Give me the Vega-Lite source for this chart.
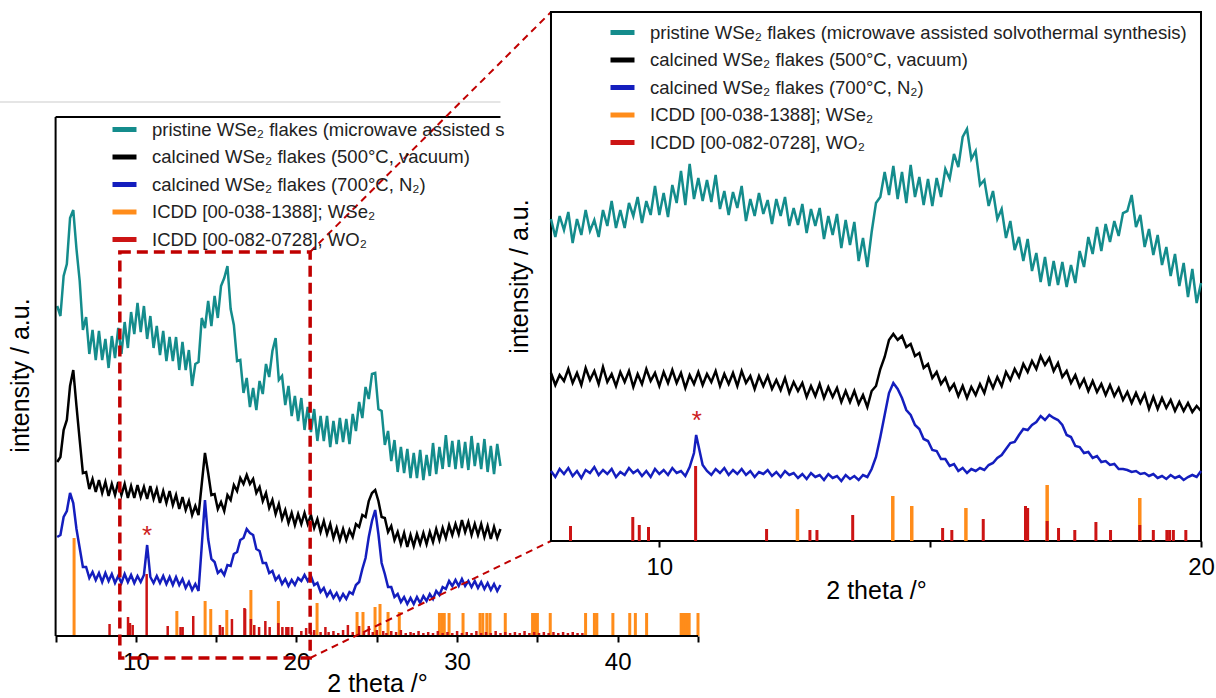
{
"$schema": "https://vega.github.io/schema/vega-lite/v6.json",
"background": "white",
"width": 1216, "height": 698,
"autosize": {"type": "none"},
"padding": 0,
"config": {
  "font": "Liberation Sans",
  "view": {"stroke": null},
  "axis": {"grid": false, "domainColor": "black", "tickColor": "black", "labelColor": "black", "titleColor": "black", "titleFontWeight": "normal", "labelFontSize": 24, "titleFontSize": 25, "domainWidth": 2, "tickWidth": 2, "labelFlush": false, "labelOverlap": false},
  "legend": {"orient": "none", "title": null, "labelFontSize": 18.5, "labelColor": "#222222", "symbolType": "stroke", "symbolStrokeWidth": 5, "symbolSize": 576, "rowPadding": 2.5, "labelOffset": 13, "padding": 0, "labelLimit": 900, "symbolOpacity": 1}
},
"resolve": {"scale": {"x": "independent", "y": "independent", "color": "independent"}, "axis": {"x": "independent", "y": "independent"}, "legend": {"color": "independent"}},
"datasets": {
  "lt": [{"x":5.1,"y":330},{"x":5.3,"y":320},{"x":5.5,"y":360},{"x":5.7,"y":372},{"x":5.9,"y":418},{"x":6.1,"y":426},{"x":6.3,"y":387},{"x":6.5,"y":355},{"x":6.7,"y":306},{"x":6.9,"y":319},{"x":7.1,"y":282},{"x":7.3,"y":306},{"x":7.5,"y":276},{"x":7.7,"y":305},{"x":7.9,"y":276},{"x":8.1,"y":297},{"x":8.3,"y":268},{"x":8.5,"y":300},{"x":8.7,"y":278},{"x":8.9,"y":308},{"x":9.1,"y":282},{"x":9.3,"y":314},{"x":9.5,"y":288},{"x":9.7,"y":324},{"x":9.9,"y":302},{"x":10.1,"y":333},{"x":10.3,"y":304},{"x":10.5,"y":330},{"x":10.7,"y":297},{"x":10.9,"y":320},{"x":11.1,"y":288},{"x":11.3,"y":310},{"x":11.5,"y":281},{"x":11.7,"y":305},{"x":11.9,"y":275},{"x":12.1,"y":299},{"x":12.3,"y":275},{"x":12.5,"y":299},{"x":12.7,"y":266},{"x":12.9,"y":294},{"x":13.1,"y":266},{"x":13.3,"y":286},{"x":13.5,"y":250},{"x":13.7,"y":272},{"x":13.9,"y":274},{"x":14.1,"y":318},{"x":14.3,"y":308},{"x":14.5,"y":335},{"x":14.7,"y":310},{"x":14.9,"y":340},{"x":15.1,"y":318},{"x":15.3,"y":350},{"x":15.5,"y":358},{"x":15.7,"y":370},{"x":15.9,"y":327},{"x":16.1,"y":311},{"x":16.3,"y":275},{"x":16.5,"y":276},{"x":16.7,"y":243},{"x":16.9,"y":258},{"x":17.1,"y":229},{"x":17.3,"y":248},{"x":17.5,"y":226},{"x":17.7,"y":255},{"x":17.9,"y":242},{"x":18.1,"y":272},{"x":18.3,"y":259},{"x":18.5,"y":285},{"x":18.7,"y":298},{"x":18.9,"y":256},{"x":19.1,"y":260},{"x":19.3,"y":231},{"x":19.5,"y":250},{"x":19.7,"y":220},{"x":19.9,"y":240},{"x":20.1,"y":215},{"x":20.3,"y":238},{"x":20.5,"y":206},{"x":20.7,"y":229},{"x":20.9,"y":204},{"x":21.1,"y":227},{"x":21.3,"y":195},{"x":21.5,"y":220},{"x":21.7,"y":195},{"x":21.9,"y":220},{"x":22.1,"y":189},{"x":22.3,"y":215},{"x":22.5,"y":192},{"x":22.7,"y":218},{"x":22.9,"y":194},{"x":23.1,"y":217},{"x":23.3,"y":192},{"x":23.5,"y":222},{"x":23.7,"y":205},{"x":23.9,"y":234},{"x":24.1,"y":218},{"x":24.3,"y":249},{"x":24.5,"y":237},{"x":24.7,"y":262},{"x":24.9,"y":263},{"x":25.1,"y":227},{"x":25.3,"y":225},{"x":25.5,"y":191},{"x":25.7,"y":205},{"x":25.9,"y":175},{"x":26.1,"y":196},{"x":26.3,"y":164},{"x":26.5,"y":189},{"x":26.7,"y":163},{"x":26.9,"y":187},{"x":27.1,"y":158},{"x":27.3,"y":183},{"x":27.5,"y":158},{"x":27.7,"y":186},{"x":27.9,"y":156},{"x":28.1,"y":181},{"x":28.3,"y":160},{"x":28.5,"y":193},{"x":28.7,"y":162},{"x":28.9,"y":189},{"x":29.1,"y":167},{"x":29.3,"y":201},{"x":29.5,"y":169},{"x":29.7,"y":195},{"x":29.9,"y":167},{"x":30.1,"y":196},{"x":30.3,"y":168},{"x":30.5,"y":194},{"x":30.7,"y":166},{"x":30.9,"y":200},{"x":31.1,"y":170},{"x":31.3,"y":193},{"x":31.5,"y":167},{"x":31.7,"y":197},{"x":31.9,"y":164},{"x":32.1,"y":190},{"x":32.3,"y":162},{"x":32.5,"y":192},{"x":32.7,"y":170}],
  "lk": [{"x":5.1,"y":174},{"x":5.3,"y":179},{"x":5.5,"y":206},{"x":5.7,"y":216},{"x":5.9,"y":250},{"x":6.1,"y":266},{"x":6.3,"y":230},{"x":6.5,"y":196},{"x":6.7,"y":163},{"x":6.9,"y":164},{"x":7.1,"y":147},{"x":7.3,"y":157},{"x":7.5,"y":144},{"x":7.7,"y":156},{"x":7.9,"y":143},{"x":8.1,"y":154},{"x":8.3,"y":140},{"x":8.5,"y":152},{"x":8.7,"y":141},{"x":8.9,"y":154},{"x":9.1,"y":141},{"x":9.3,"y":152},{"x":9.5,"y":138},{"x":9.7,"y":150},{"x":9.9,"y":138},{"x":10.1,"y":151},{"x":10.3,"y":139},{"x":10.5,"y":149},{"x":10.7,"y":137},{"x":10.9,"y":150},{"x":11.1,"y":137},{"x":11.3,"y":147},{"x":11.5,"y":133},{"x":11.7,"y":145},{"x":11.9,"y":133},{"x":12.1,"y":145},{"x":12.3,"y":131},{"x":12.5,"y":141},{"x":12.7,"y":127},{"x":12.9,"y":139},{"x":13.1,"y":126},{"x":13.3,"y":135},{"x":13.5,"y":121},{"x":13.7,"y":130},{"x":13.9,"y":121},{"x":14.1,"y":152},{"x":14.3,"y":183},{"x":14.5,"y":163},{"x":14.7,"y":141},{"x":14.9,"y":142},{"x":15.1,"y":127},{"x":15.3,"y":134},{"x":15.5,"y":125},{"x":15.7,"y":141},{"x":15.9,"y":136},{"x":16.1,"y":151},{"x":16.3,"y":145},{"x":16.5,"y":158},{"x":16.7,"y":152},{"x":16.9,"y":161},{"x":17.1,"y":152},{"x":17.3,"y":157},{"x":17.5,"y":143},{"x":17.7,"y":149},{"x":17.9,"y":135},{"x":18.1,"y":143},{"x":18.3,"y":128},{"x":18.5,"y":136},{"x":18.7,"y":122},{"x":18.9,"y":132},{"x":19.1,"y":117},{"x":19.3,"y":126},{"x":19.5,"y":113},{"x":19.7,"y":123},{"x":19.9,"y":111},{"x":20.1,"y":122},{"x":20.3,"y":112},{"x":20.5,"y":123},{"x":20.7,"y":112},{"x":20.9,"y":121},{"x":21.1,"y":108},{"x":21.3,"y":117},{"x":21.5,"y":104},{"x":21.7,"y":115},{"x":21.9,"y":102},{"x":22.1,"y":112},{"x":22.3,"y":98},{"x":22.5,"y":108},{"x":22.7,"y":96},{"x":22.9,"y":107},{"x":23.1,"y":96},{"x":23.3,"y":106},{"x":23.5,"y":99},{"x":23.7,"y":112},{"x":23.9,"y":109},{"x":24.1,"y":121},{"x":24.3,"y":119},{"x":24.5,"y":135},{"x":24.7,"y":143},{"x":24.9,"y":146},{"x":25.1,"y":135},{"x":25.3,"y":119},{"x":25.5,"y":118},{"x":25.7,"y":104},{"x":25.9,"y":110},{"x":26.1,"y":96},{"x":26.3,"y":104},{"x":26.5,"y":92},{"x":26.7,"y":103},{"x":26.9,"y":89},{"x":27.1,"y":101},{"x":27.3,"y":90},{"x":27.5,"y":102},{"x":27.7,"y":92},{"x":27.9,"y":103},{"x":28.1,"y":92},{"x":28.3,"y":104},{"x":28.5,"y":94},{"x":28.7,"y":107},{"x":28.9,"y":96},{"x":29.1,"y":108},{"x":29.3,"y":98},{"x":29.5,"y":111},{"x":29.7,"y":101},{"x":29.9,"y":112},{"x":30.1,"y":102},{"x":30.3,"y":116},{"x":30.5,"y":104},{"x":30.7,"y":114},{"x":30.9,"y":101},{"x":31.1,"y":112},{"x":31.3,"y":101},{"x":31.5,"y":112},{"x":31.7,"y":99},{"x":31.9,"y":110},{"x":32.1,"y":97},{"x":32.3,"y":109},{"x":32.5,"y":98},{"x":32.7,"y":107}],
  "lb": [{"x":5.1,"y":99},{"x":5.3,"y":101},{"x":5.5,"y":119},{"x":5.7,"y":125},{"x":5.9,"y":143},{"x":6.1,"y":133},{"x":6.3,"y":107},{"x":6.5,"y":88},{"x":6.7,"y":69},{"x":6.9,"y":69},{"x":7.1,"y":58},{"x":7.3,"y":64},{"x":7.5,"y":56},{"x":7.7,"y":63},{"x":7.9,"y":54},{"x":8.1,"y":63},{"x":8.3,"y":55},{"x":8.5,"y":62},{"x":8.7,"y":53},{"x":8.9,"y":60},{"x":9.1,"y":53},{"x":9.3,"y":62},{"x":9.5,"y":54},{"x":9.7,"y":61},{"x":9.9,"y":53},{"x":10.1,"y":60},{"x":10.3,"y":54},{"x":10.5,"y":61},{"x":10.7,"y":91},{"x":10.9,"y":59},{"x":11.1,"y":53},{"x":11.3,"y":60},{"x":11.5,"y":53},{"x":11.7,"y":60},{"x":11.9,"y":52},{"x":12.1,"y":59},{"x":12.3,"y":51},{"x":12.5,"y":59},{"x":12.7,"y":51},{"x":12.9,"y":57},{"x":13.1,"y":48},{"x":13.3,"y":54},{"x":13.5,"y":46},{"x":13.7,"y":52},{"x":13.9,"y":45},{"x":14.1,"y":90},{"x":14.3,"y":136},{"x":14.5,"y":97},{"x":14.7,"y":77},{"x":14.9,"y":74},{"x":15.1,"y":63},{"x":15.3,"y":66},{"x":15.5,"y":61},{"x":15.7,"y":71},{"x":15.9,"y":70},{"x":16.1,"y":82},{"x":16.3,"y":84},{"x":16.5,"y":96},{"x":16.7,"y":98},{"x":16.9,"y":107},{"x":17.1,"y":103},{"x":17.3,"y":101},{"x":17.5,"y":87},{"x":17.7,"y":85},{"x":17.9,"y":73},{"x":18.1,"y":73},{"x":18.3,"y":63},{"x":18.5,"y":65},{"x":18.7,"y":56},{"x":18.9,"y":60},{"x":19.1,"y":52},{"x":19.3,"y":57},{"x":19.5,"y":50},{"x":19.7,"y":56},{"x":19.9,"y":51},{"x":20.1,"y":58},{"x":20.3,"y":55},{"x":20.5,"y":61},{"x":20.7,"y":55},{"x":20.9,"y":60},{"x":21.1,"y":51},{"x":21.3,"y":53},{"x":21.5,"y":44},{"x":21.7,"y":48},{"x":21.9,"y":40},{"x":22.1,"y":45},{"x":22.3,"y":38},{"x":22.5,"y":43},{"x":22.7,"y":36},{"x":22.9,"y":42},{"x":23.1,"y":37},{"x":23.3,"y":44},{"x":23.5,"y":42},{"x":23.7,"y":51},{"x":23.9,"y":54},{"x":24.1,"y":67},{"x":24.3,"y":78},{"x":24.5,"y":99},{"x":24.7,"y":115},{"x":24.9,"y":126},{"x":25.1,"y":102},{"x":25.3,"y":73},{"x":25.5,"y":62},{"x":25.7,"y":49},{"x":25.9,"y":49},{"x":26.1,"y":39},{"x":26.3,"y":42},{"x":26.5,"y":34},{"x":26.7,"y":39},{"x":26.9,"y":32},{"x":27.1,"y":38},{"x":27.3,"y":32},{"x":27.5,"y":39},{"x":27.7,"y":33},{"x":27.9,"y":40},{"x":28.1,"y":35},{"x":28.3,"y":42},{"x":28.5,"y":37},{"x":28.7,"y":45},{"x":28.9,"y":41},{"x":29.1,"y":49},{"x":29.3,"y":47},{"x":29.5,"y":55},{"x":29.7,"y":50},{"x":29.9,"y":56},{"x":30.1,"y":50},{"x":30.3,"y":57},{"x":30.5,"y":50},{"x":30.7,"y":55},{"x":30.9,"y":49},{"x":31.1,"y":55},{"x":31.3,"y":48},{"x":31.5,"y":54},{"x":31.7,"y":47},{"x":31.9,"y":53},{"x":32.1,"y":46},{"x":32.3,"y":52},{"x":32.5,"y":45},{"x":32.7,"y":51}],
  "lws": [{"x":6.15,"y":98},{"x":12.55,"y":25},{"x":14.31,"y":35},{"x":14.66,"y":27},{"x":15.66,"y":26},{"x":17.16,"y":46},{"x":18.87,"y":35},{"x":21.28,"y":33},{"x":23.77,"y":24},{"x":24.14,"y":24},{"x":24.89,"y":29},{"x":25.2,"y":32},{"x":25.7,"y":24},{"x":26.4,"y":24},{"x":28.9,"y":23},{"x":29.06,"y":23},{"x":29.2,"y":23},{"x":29.5,"y":23},{"x":30.37,"y":23},{"x":31.43,"y":23},{"x":31.6,"y":23},{"x":31.85,"y":23},{"x":32.05,"y":23},{"x":33.0,"y":23},{"x":34.7,"y":23},{"x":34.8,"y":23},{"x":34.9,"y":23},{"x":35.0,"y":23},{"x":35.8,"y":23},{"x":38.0,"y":23},{"x":38.55,"y":23},{"x":38.7,"y":23},{"x":39.7,"y":23},{"x":40.75,"y":23},{"x":41.1,"y":23},{"x":41.8,"y":23},{"x":43.95,"y":23},{"x":44.05,"y":23},{"x":44.15,"y":23},{"x":44.25,"y":23},{"x":44.35,"y":23},{"x":44.45,"y":23},{"x":45.0,"y":23}],
  "lwo": [{"x":8.36,"y":12},{"x":9.51,"y":19},{"x":9.63,"y":13},{"x":9.8,"y":11},{"x":10.67,"y":62},{"x":11.98,"y":10},{"x":12.78,"y":9},{"x":12.91,"y":9},{"x":13.57,"y":20},{"x":15.23,"y":11},{"x":15.4,"y":9},{"x":15.98,"y":17},{"x":16.76,"y":28},{"x":16.8,"y":27},{"x":17.16,"y":17},{"x":17.37,"y":11},{"x":17.67,"y":9},{"x":18.06,"y":15},{"x":18.33,"y":9},{"x":18.87,"y":13},{"x":19.12,"y":9},{"x":19.37,"y":9},{"x":19.42,"y":9},{"x":19.49,"y":9},{"x":19.72,"y":9},{"x":20.3,"y":5},{"x":20.6,"y":8},{"x":20.9,"y":4},{"x":21.1,"y":6},{"x":21.5,"y":4},{"x":21.8,"y":9},{"x":22.0,"y":4},{"x":22.3,"y":5},{"x":22.6,"y":3},{"x":22.9,"y":6},{"x":23.2,"y":11},{"x":23.5,"y":4},{"x":23.9,"y":10},{"x":24.2,"y":5},{"x":24.5,"y":10},{"x":24.75,"y":4},{"x":25.0,"y":6},{"x":25.4,"y":5},{"x":25.6,"y":3},{"x":25.9,"y":5},{"x":26.2,"y":4},{"x":26.5,"y":6},{"x":26.8,"y":3},{"x":27.1,"y":4},{"x":27.3,"y":3},{"x":27.6,"y":5},{"x":27.9,"y":3},{"x":28.2,"y":4},{"x":28.5,"y":3},{"x":28.8,"y":5},{"x":29.1,"y":3},{"x":29.4,"y":4},{"x":29.7,"y":3},{"x":30.0,"y":5},{"x":30.3,"y":3},{"x":30.6,"y":4},{"x":30.9,"y":3},{"x":31.2,"y":5},{"x":31.5,"y":3},{"x":31.8,"y":4},{"x":32.1,"y":3},{"x":32.4,"y":5},{"x":32.7,"y":3},{"x":33.0,"y":4},{"x":33.3,"y":3},{"x":33.6,"y":4},{"x":33.9,"y":3},{"x":34.2,"y":5},{"x":34.5,"y":3},{"x":34.8,"y":4},{"x":35.1,"y":3},{"x":35.4,"y":4},{"x":35.7,"y":3},{"x":36.0,"y":4},{"x":36.3,"y":3},{"x":36.6,"y":4},{"x":36.9,"y":3},{"x":37.2,"y":4},{"x":37.5,"y":3},{"x":37.8,"y":3}],
  "last": [{"x":10.7,"y":106,"t":"*"}],
  "lframe": [{"x":5,"x2":5,"y":0,"y2":519},{"x":5,"x2":32.7,"y":519,"y2":519},{"x":5,"x2":45,"y":0,"y2":0}],
  "lgray": [{"x":1.538,"x2":32.7,"y":534,"y2":534}],
  "lbox": [{"x":9.0,"x2":20.85,"y":384,"y2":-22}],
  "lconn": [{"g":"a","x":20.85,"y":384},{"g":"a","x":35.85,"y":624},{"g":"b","x":20.85,"y":-22},{"g":"b","x":35.85,"y":95}],
  "iframe": [{"x":8,"x2":20,"y":0,"y2":529}],
  "it": [{"x":8,"y":322},{"x":8.08,"y":304},{"x":8.16,"y":325},{"x":8.24,"y":311},{"x":8.32,"y":329},{"x":8.4,"y":298},{"x":8.48,"y":322},{"x":8.56,"y":306},{"x":8.64,"y":331},{"x":8.72,"y":310},{"x":8.8,"y":321},{"x":8.88,"y":304},{"x":8.96,"y":331},{"x":9.04,"y":315},{"x":9.12,"y":340},{"x":9.2,"y":313},{"x":9.28,"y":331},{"x":9.36,"y":313},{"x":9.44,"y":338},{"x":9.52,"y":325},{"x":9.6,"y":344},{"x":9.68,"y":318},{"x":9.76,"y":340},{"x":9.84,"y":326},{"x":9.92,"y":355},{"x":10,"y":326},{"x":10.08,"y":348},{"x":10.16,"y":324},{"x":10.24,"y":356},{"x":10.32,"y":338},{"x":10.4,"y":370},{"x":10.48,"y":336},{"x":10.56,"y":377},{"x":10.64,"y":342},{"x":10.72,"y":363},{"x":10.8,"y":340},{"x":10.88,"y":361},{"x":10.96,"y":339},{"x":11.04,"y":366},{"x":11.12,"y":332},{"x":11.2,"y":350},{"x":11.28,"y":326},{"x":11.36,"y":349},{"x":11.44,"y":333},{"x":11.52,"y":355},{"x":11.6,"y":320},{"x":11.68,"y":342},{"x":11.76,"y":325},{"x":11.84,"y":348},{"x":11.92,"y":327},{"x":12,"y":341},{"x":12.08,"y":317},{"x":12.16,"y":342},{"x":12.24,"y":325},{"x":12.32,"y":344},{"x":12.4,"y":315},{"x":12.48,"y":333},{"x":12.56,"y":316},{"x":12.64,"y":337},{"x":12.72,"y":308},{"x":12.8,"y":332},{"x":12.88,"y":315},{"x":12.96,"y":333},{"x":13.04,"y":302},{"x":13.12,"y":325},{"x":13.2,"y":306},{"x":13.28,"y":327},{"x":13.36,"y":293},{"x":13.44,"y":321},{"x":13.52,"y":296},{"x":13.6,"y":319},{"x":13.68,"y":280},{"x":13.76,"y":303},{"x":13.84,"y":274},{"x":13.92,"y":309},{"x":14,"y":338},{"x":14.08,"y":344},{"x":14.16,"y":369},{"x":14.24,"y":346},{"x":14.32,"y":375},{"x":14.4,"y":342},{"x":14.48,"y":369},{"x":14.56,"y":338},{"x":14.64,"y":376},{"x":14.72,"y":344},{"x":14.8,"y":364},{"x":14.88,"y":336},{"x":14.96,"y":362},{"x":15.04,"y":335},{"x":15.12,"y":363},{"x":15.2,"y":344},{"x":15.28,"y":372},{"x":15.36,"y":362},{"x":15.44,"y":387},{"x":15.52,"y":374},{"x":15.6,"y":404},{"x":15.68,"y":412},{"x":15.76,"y":382},{"x":15.84,"y":390},{"x":15.92,"y":356},{"x":16,"y":361},{"x":16.08,"y":335},{"x":16.16,"y":350},{"x":16.24,"y":322},{"x":16.32,"y":332},{"x":16.4,"y":303},{"x":16.48,"y":320},{"x":16.56,"y":291},{"x":16.64,"y":304},{"x":16.72,"y":280},{"x":16.8,"y":302},{"x":16.88,"y":270},{"x":16.96,"y":288},{"x":17.04,"y":259},{"x":17.12,"y":284},{"x":17.2,"y":255},{"x":17.28,"y":280},{"x":17.36,"y":256},{"x":17.44,"y":279},{"x":17.52,"y":254},{"x":17.6,"y":276},{"x":17.68,"y":258},{"x":17.76,"y":290},{"x":17.84,"y":274},{"x":17.92,"y":304},{"x":18,"y":287},{"x":18.08,"y":314},{"x":18.16,"y":290},{"x":18.24,"y":317},{"x":18.32,"y":299},{"x":18.4,"y":320},{"x":18.48,"y":305},{"x":18.56,"y":328},{"x":18.64,"y":330},{"x":18.72,"y":346},{"x":18.8,"y":314},{"x":18.88,"y":326},{"x":18.96,"y":294},{"x":19.04,"y":312},{"x":19.12,"y":286},{"x":19.2,"y":306},{"x":19.28,"y":276},{"x":19.36,"y":294},{"x":19.44,"y":265},{"x":19.52,"y":287},{"x":19.6,"y":255},{"x":19.68,"y":278},{"x":19.76,"y":244},{"x":19.84,"y":272},{"x":19.92,"y":238},{"x":20,"y":258}],
  "ik": [{"x":8,"y":168},{"x":8.08,"y":156},{"x":8.16,"y":166},{"x":8.24,"y":160},{"x":8.32,"y":172},{"x":8.4,"y":158},{"x":8.48,"y":168},{"x":8.56,"y":156},{"x":8.64,"y":173},{"x":8.72,"y":161},{"x":8.8,"y":170},{"x":8.88,"y":157},{"x":8.96,"y":174},{"x":9.04,"y":159},{"x":9.12,"y":167},{"x":9.2,"y":155},{"x":9.28,"y":169},{"x":9.36,"y":159},{"x":9.44,"y":170},{"x":9.52,"y":154},{"x":9.6,"y":167},{"x":9.68,"y":157},{"x":9.76,"y":172},{"x":9.84,"y":160},{"x":9.92,"y":168},{"x":10,"y":155},{"x":10.08,"y":169},{"x":10.16,"y":158},{"x":10.24,"y":171},{"x":10.32,"y":158},{"x":10.4,"y":168},{"x":10.48,"y":153},{"x":10.56,"y":166},{"x":10.64,"y":157},{"x":10.72,"y":169},{"x":10.8,"y":156},{"x":10.88,"y":167},{"x":10.96,"y":159},{"x":11.04,"y":170},{"x":11.12,"y":155},{"x":11.2,"y":167},{"x":11.28,"y":157},{"x":11.36,"y":168},{"x":11.44,"y":155},{"x":11.52,"y":170},{"x":11.6,"y":158},{"x":11.68,"y":165},{"x":11.76,"y":152},{"x":11.84,"y":165},{"x":11.92,"y":155},{"x":12,"y":165},{"x":12.08,"y":152},{"x":12.16,"y":161},{"x":12.24,"y":151},{"x":12.32,"y":163},{"x":12.4,"y":148},{"x":12.48,"y":159},{"x":12.56,"y":150},{"x":12.64,"y":158},{"x":12.72,"y":144},{"x":12.8,"y":155},{"x":12.88,"y":145},{"x":12.96,"y":157},{"x":13.04,"y":143},{"x":13.12,"y":154},{"x":13.2,"y":144},{"x":13.28,"y":153},{"x":13.36,"y":139},{"x":13.44,"y":150},{"x":13.52,"y":139},{"x":13.6,"y":150},{"x":13.68,"y":137},{"x":13.76,"y":146},{"x":13.84,"y":134},{"x":13.92,"y":150},{"x":14,"y":155},{"x":14.08,"y":172},{"x":14.16,"y":184},{"x":14.24,"y":201},{"x":14.32,"y":207},{"x":14.4,"y":201},{"x":14.48,"y":205},{"x":14.56,"y":194},{"x":14.64,"y":197},{"x":14.72,"y":185},{"x":14.8,"y":188},{"x":14.88,"y":173},{"x":14.96,"y":177},{"x":15.04,"y":163},{"x":15.12,"y":169},{"x":15.2,"y":157},{"x":15.28,"y":163},{"x":15.36,"y":151},{"x":15.44,"y":157},{"x":15.52,"y":145},{"x":15.6,"y":155},{"x":15.68,"y":143},{"x":15.76,"y":154},{"x":15.84,"y":146},{"x":15.92,"y":157},{"x":16,"y":148},{"x":16.08,"y":163},{"x":16.16,"y":153},{"x":16.24,"y":164},{"x":16.32,"y":155},{"x":16.4,"y":169},{"x":16.48,"y":161},{"x":16.56,"y":172},{"x":16.64,"y":164},{"x":16.72,"y":177},{"x":16.8,"y":169},{"x":16.88,"y":180},{"x":16.96,"y":172},{"x":17.04,"y":185},{"x":17.12,"y":176},{"x":17.2,"y":183},{"x":17.28,"y":170},{"x":17.36,"y":178},{"x":17.44,"y":164},{"x":17.52,"y":170},{"x":17.6,"y":158},{"x":17.68,"y":166},{"x":17.76,"y":154},{"x":17.84,"y":162},{"x":17.92,"y":150},{"x":18,"y":160},{"x":18.08,"y":149},{"x":18.16,"y":157},{"x":18.24,"y":146},{"x":18.32,"y":156},{"x":18.4,"y":145},{"x":18.48,"y":153},{"x":18.56,"y":141},{"x":18.64,"y":149},{"x":18.72,"y":138},{"x":18.8,"y":148},{"x":18.88,"y":138},{"x":18.96,"y":147},{"x":19.04,"y":132},{"x":19.12,"y":144},{"x":19.2,"y":132},{"x":19.28,"y":143},{"x":19.36,"y":133},{"x":19.44,"y":141},{"x":19.52,"y":130},{"x":19.6,"y":139},{"x":19.68,"y":130},{"x":19.76,"y":138},{"x":19.84,"y":129},{"x":19.92,"y":135},{"x":20,"y":130}],
  "ib": [{"x":8,"y":70},{"x":8.08,"y":64},{"x":8.16,"y":72},{"x":8.24,"y":67},{"x":8.32,"y":73},{"x":8.4,"y":65},{"x":8.48,"y":70},{"x":8.56,"y":63},{"x":8.64,"y":71},{"x":8.72,"y":68},{"x":8.8,"y":74},{"x":8.88,"y":66},{"x":8.96,"y":71},{"x":9.04,"y":67},{"x":9.12,"y":72},{"x":9.2,"y":64},{"x":9.28,"y":69},{"x":9.36,"y":66},{"x":9.44,"y":73},{"x":9.52,"y":68},{"x":9.6,"y":71},{"x":9.68,"y":65},{"x":9.76,"y":70},{"x":9.84,"y":64},{"x":9.92,"y":72},{"x":10,"y":67},{"x":10.08,"y":71},{"x":10.16,"y":66},{"x":10.24,"y":73},{"x":10.32,"y":68},{"x":10.4,"y":70},{"x":10.48,"y":65},{"x":10.56,"y":74},{"x":10.64,"y":88},{"x":10.68,"y":106},{"x":10.72,"y":96},{"x":10.8,"y":76},{"x":10.88,"y":70},{"x":10.96,"y":66},{"x":11.04,"y":72},{"x":11.12,"y":68},{"x":11.2,"y":73},{"x":11.28,"y":66},{"x":11.36,"y":71},{"x":11.44,"y":67},{"x":11.52,"y":72},{"x":11.6,"y":66},{"x":11.68,"y":70},{"x":11.76,"y":64},{"x":11.84,"y":69},{"x":11.92,"y":67},{"x":12,"y":71},{"x":12.08,"y":65},{"x":12.16,"y":69},{"x":12.24,"y":64},{"x":12.32,"y":70},{"x":12.4,"y":66},{"x":12.48,"y":68},{"x":12.56,"y":63},{"x":12.64,"y":67},{"x":12.72,"y":62},{"x":12.8,"y":68},{"x":12.88,"y":64},{"x":12.96,"y":66},{"x":13.04,"y":61},{"x":13.12,"y":67},{"x":13.2,"y":63},{"x":13.28,"y":65},{"x":13.36,"y":60},{"x":13.44,"y":66},{"x":13.52,"y":62},{"x":13.6,"y":65},{"x":13.68,"y":61},{"x":13.76,"y":66},{"x":13.84,"y":64},{"x":13.92,"y":72},{"x":14,"y":84},{"x":14.08,"y":104},{"x":14.16,"y":126},{"x":14.24,"y":148},{"x":14.32,"y":158},{"x":14.4,"y":152},{"x":14.48,"y":143},{"x":14.56,"y":131},{"x":14.64,"y":126},{"x":14.72,"y":116},{"x":14.8,"y":112},{"x":14.88,"y":102},{"x":14.96,"y":100},{"x":15.04,"y":91},{"x":15.12,"y":90},{"x":15.2,"y":82},{"x":15.28,"y":82},{"x":15.36,"y":75},{"x":15.44,"y":77},{"x":15.52,"y":70},{"x":15.6,"y":73},{"x":15.68,"y":68},{"x":15.76,"y":72},{"x":15.84,"y":70},{"x":15.92,"y":73},{"x":16,"y":71},{"x":16.08,"y":76},{"x":16.16,"y":78},{"x":16.24,"y":83},{"x":16.32,"y":86},{"x":16.4,"y":92},{"x":16.48,"y":98},{"x":16.56,"y":99},{"x":16.64,"y":106},{"x":16.72,"y":112},{"x":16.8,"y":111},{"x":16.88,"y":116},{"x":16.96,"y":119},{"x":17.04,"y":125},{"x":17.12,"y":121},{"x":17.2,"y":126},{"x":17.28,"y":123},{"x":17.36,"y":121},{"x":17.44,"y":116},{"x":17.52,"y":106},{"x":17.6,"y":104},{"x":17.68,"y":95},{"x":17.76,"y":94},{"x":17.84,"y":88},{"x":17.92,"y":89},{"x":18,"y":83},{"x":18.08,"y":85},{"x":18.16,"y":79},{"x":18.24,"y":80},{"x":18.32,"y":76},{"x":18.4,"y":77},{"x":18.48,"y":72},{"x":18.56,"y":72},{"x":18.64,"y":71},{"x":18.72,"y":69},{"x":18.8,"y":70},{"x":18.88,"y":67},{"x":18.96,"y":68},{"x":19.04,"y":65},{"x":19.12,"y":67},{"x":19.2,"y":63},{"x":19.28,"y":65},{"x":19.36,"y":62},{"x":19.44,"y":66},{"x":19.52,"y":63},{"x":19.6,"y":65},{"x":19.68,"y":61},{"x":19.76,"y":64},{"x":19.84,"y":66},{"x":19.92,"y":64},{"x":20,"y":70}],
  "iws": [{"x":12.55,"y":32},{"x":14.31,"y":45},{"x":14.66,"y":35},{"x":15.66,"y":33},{"x":17.16,"y":56},{"x":18.87,"y":43}],
  "iwo": [{"x":8.36,"y":15},{"x":9.51,"y":24},{"x":9.63,"y":16},{"x":9.8,"y":14},{"x":10.67,"y":75},{"x":11.98,"y":12},{"x":12.78,"y":11},{"x":12.91,"y":11},{"x":13.57,"y":26},{"x":15.23,"y":13},{"x":15.4,"y":11},{"x":15.98,"y":22},{"x":16.76,"y":35},{"x":16.8,"y":33},{"x":17.16,"y":20},{"x":17.37,"y":13},{"x":17.67,"y":11},{"x":18.06,"y":19},{"x":18.33,"y":11},{"x":18.87,"y":16},{"x":19.12,"y":11},{"x":19.37,"y":11},{"x":19.42,"y":11},{"x":19.49,"y":11},{"x":19.72,"y":11}],
  "iast": [{"x":10.69,"y":126,"t":"*"}]
},
"layer": [
  {
    "layer": [
      {"data": {"name": "lws"}, "mark": {"type": "rule", "strokeWidth": 3},
       "encoding": {
         "x": {"field": "x", "type": "quantitative", "scale": {"domain": [1.538, 77.254], "nice": false, "zero": false},
               "axis": {"orient": "bottom", "offset": -62, "domain": false, "values": [5,10,15,20,25,30,35,40,45], "labelExpr": "datum.value % 10 === 0 ? format(datum.value, 'd') : ''", "title": "2 theta /°", "titleX": 377, "tickSize": 6, "labelPadding": 8, "titlePadding": -3}},
         "y": {"field": "y", "type": "quantitative", "scale": {"domain": [-62, 636], "nice": false, "zero": false},
               "axis": {"orient": "left", "offset": -55.6, "title": "intensity / a.u.", "domain": false, "ticks": false, "labels": false, "titlePadding": 22, "titleY": 375}},
         "y2": {"datum": 0},
         "color": {"datum": "ICDD [00-038-1388]; WSe₂",
                   "scale": {"domain": ["pristine WSe₂ flakes (microwave assisted solvothermal synthesis)", "calcined WSe₂ flakes (500°C, vacuum)", "calcined WSe₂ flakes (700°C, N₂)", "ICDD [00-038-1388]; WSe₂", "ICDD [00-082-0728], WO₂"],
                             "range": ["#148c8c", "#000000", "#141ebe", "#ff8c1a", "#cc1414"]},
                   "legend": {"legendX": 110, "legendY": 115, "labelExpr": "indexof(datum.label, 'pristine') === 0 ? 'pristine WSe₂ flakes (microwave assisted s' : datum.label"}}
       }},
      {"data": {"name": "lwo"}, "mark": {"type": "rule", "strokeWidth": 2.5},
       "encoding": {"x": {"field": "x", "type": "quantitative"}, "y": {"field": "y", "type": "quantitative"}, "y2": {"datum": 0}, "color": {"datum": "ICDD [00-082-0728], WO₂"}}},
      {"data": {"name": "lt"}, "mark": {"type": "line", "strokeWidth": 2.5},
       "encoding": {"x": {"field": "x", "type": "quantitative"}, "y": {"field": "y", "type": "quantitative"}, "color": {"datum": "pristine WSe₂ flakes (microwave assisted solvothermal synthesis)"}}},
      {"data": {"name": "lk"}, "mark": {"type": "line", "strokeWidth": 2.5},
       "encoding": {"x": {"field": "x", "type": "quantitative"}, "y": {"field": "y", "type": "quantitative"}, "color": {"datum": "calcined WSe₂ flakes (500°C, vacuum)"}}},
      {"data": {"name": "lb"}, "mark": {"type": "line", "strokeWidth": 2.5},
       "encoding": {"x": {"field": "x", "type": "quantitative"}, "y": {"field": "y", "type": "quantitative"}, "color": {"datum": "calcined WSe₂ flakes (700°C, N₂)"}}},
      {"data": {"name": "last"}, "mark": {"type": "text", "fontSize": 26, "color": "#cc2020", "baseline": "middle", "dy": 6},
       "encoding": {"x": {"field": "x", "type": "quantitative"}, "y": {"field": "y", "type": "quantitative"}, "text": {"field": "t"}}},
      {"data": {"name": "lgray"}, "mark": {"type": "rule", "color": "#dcdcdc", "strokeWidth": 1.5},
       "encoding": {"x": {"field": "x", "type": "quantitative"}, "x2": {"field": "x2"}, "y": {"field": "y", "type": "quantitative"}, "y2": {"field": "y2"}}},
      {"data": {"name": "lframe"}, "mark": {"type": "rule", "color": "black", "strokeWidth": 2},
       "encoding": {"x": {"field": "x", "type": "quantitative"}, "x2": {"field": "x2"}, "y": {"field": "y", "type": "quantitative"}, "y2": {"field": "y2"}}},
      {"data": {"name": "lbox"}, "mark": {"type": "rect", "filled": false, "stroke": "#c00000", "strokeWidth": 3.5, "strokeDash": [11, 6]},
       "encoding": {"x": {"field": "x", "type": "quantitative"}, "x2": {"field": "x2"}, "y": {"field": "y", "type": "quantitative"}, "y2": {"field": "y2"}}},
      {"data": {"name": "lconn"}, "mark": {"type": "line", "color": "#c00000", "strokeWidth": 2, "strokeDash": [7, 5]},
       "encoding": {"x": {"field": "x", "type": "quantitative"}, "y": {"field": "y", "type": "quantitative"}, "detail": {"field": "g"}}}
    ]
  },
  {
    "layer": [
      {"data": {"name": "iframe"}, "mark": {"type": "rect", "fill": "white", "stroke": "black", "strokeWidth": 2},
       "encoding": {
         "x": {"field": "x", "type": "quantitative", "scale": {"domain": [-2.172, 20.277], "nice": false, "zero": false},
               "axis": {"orient": "bottom", "offset": -157, "domain": false, "values": [10, 15, 20], "labelExpr": "datum.value == 15 ? '' : format(datum.value, 'd')", "title": "2 theta /°", "titleX": 876, "tickSize": 6, "labelPadding": 8, "titlePadding": -1}},
         "x2": {"field": "x2"},
         "y": {"field": "y", "type": "quantitative", "scale": {"domain": [-157, 541], "nice": false, "zero": false},
               "axis": {"orient": "left", "offset": -551, "title": "intensity / a.u.", "domain": false, "ticks": false, "labels": false, "titlePadding": 19, "titleY": 276}},
         "y2": {"field": "y2"}
       }},
      {"data": {"name": "iws"}, "mark": {"type": "rule", "strokeWidth": 3.5},
       "encoding": {
         "x": {"field": "x", "type": "quantitative"},
         "y": {"field": "y", "type": "quantitative"},
         "y2": {"datum": 0},
         "color": {"datum": "ICDD [00-038-1388]; WSe₂",
                   "scale": {"domain": ["pristine WSe₂ flakes (microwave assisted solvothermal synthesis)", "calcined WSe₂ flakes (500°C, vacuum)", "calcined WSe₂ flakes (700°C, N₂)", "ICDD [00-038-1388]; WSe₂", "ICDD [00-082-0728], WO₂"],
                             "range": ["#148c8c", "#000000", "#141ebe", "#ff8c1a", "#cc1414"]},
                   "legend": {"legendX": 608, "legendY": 18}}
       }},
      {"data": {"name": "iwo"}, "mark": {"type": "rule", "strokeWidth": 3},
       "encoding": {"x": {"field": "x", "type": "quantitative"}, "y": {"field": "y", "type": "quantitative"}, "y2": {"datum": 0}, "color": {"datum": "ICDD [00-082-0728], WO₂"}}},
      {"data": {"name": "it"}, "mark": {"type": "line", "strokeWidth": 2.5},
       "encoding": {"x": {"field": "x", "type": "quantitative"}, "y": {"field": "y", "type": "quantitative"}, "color": {"datum": "pristine WSe₂ flakes (microwave assisted solvothermal synthesis)"}}},
      {"data": {"name": "ik"}, "mark": {"type": "line", "strokeWidth": 2.5},
       "encoding": {"x": {"field": "x", "type": "quantitative"}, "y": {"field": "y", "type": "quantitative"}, "color": {"datum": "calcined WSe₂ flakes (500°C, vacuum)"}}},
      {"data": {"name": "ib"}, "mark": {"type": "line", "strokeWidth": 2.5},
       "encoding": {"x": {"field": "x", "type": "quantitative"}, "y": {"field": "y", "type": "quantitative"}, "color": {"datum": "calcined WSe₂ flakes (700°C, N₂)"}}},
      {"data": {"name": "iast"}, "mark": {"type": "text", "fontSize": 26, "color": "#cc2020", "baseline": "middle", "dy": 6},
       "encoding": {"x": {"field": "x", "type": "quantitative"}, "y": {"field": "y", "type": "quantitative"}, "text": {"field": "t"}}}
    ]
  }
]
}
